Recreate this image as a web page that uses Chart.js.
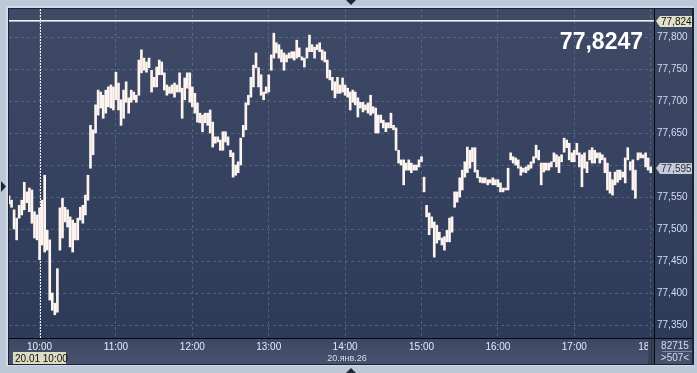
<!DOCTYPE html>
<html>
<head>
<meta charset="utf-8">
<script src="https://cdn.jsdelivr.net/npm/chart.js@4/dist/chart.umd.min.js"></script>
<style>
html, body { margin: 0; padding: 0; background: #bcc8d8; }
canvas { display: block; }
</style>
</head>
<body>
<canvas id="quoteChart" width="697" height="373"></canvas>
<script>
// --- DATA ---
// one bar every 2 minutes, first bar at 9:36 (minutes since midnight)
const startMinute = 9 * 60 + 36;
const barStep = 2;

const highs = [
    77.552, 77.545, 77.530, 77.517, 77.537, 77.545, 77.573, 77.558, 77.564, 77.561,
    77.527, 77.522, 77.533, 77.545, 77.584, 77.498, 77.483, 77.400, 77.384, 77.438,
    77.533, 77.548, 77.534, 77.530, 77.519, 77.514, 77.509, 77.517, 77.534, 77.537,
    77.553, 77.584, 77.662, 77.655, 77.694, 77.717, 77.714, 77.709, 77.717, 77.722,
    77.725, 77.722, 77.745, 77.728, 77.702, 77.717, 77.730, 77.705, 77.717, 77.714,
    77.709, 77.764, 77.780, 77.767, 77.761, 77.767, 77.748, 77.737, 77.753, 77.764,
    77.761, 77.744, 77.725, 77.722, 77.725, 77.728, 77.725, 77.744, 77.720, 77.736,
    77.744, 77.744, 77.722, 77.712, 77.697, 77.681, 77.678, 77.681, 77.681, 77.686,
    77.667, 77.644, 77.644, 77.639, 77.652, 77.652, 77.644, 77.623, 77.619, 77.600,
    77.605, 77.642, 77.662, 77.697, 77.709, 77.737, 77.756, 77.775, 77.752, 77.741,
    77.714, 77.722, 77.741, 77.772, 77.806, 77.791, 77.788, 77.780, 77.775, 77.772,
    77.775, 77.777, 77.777, 77.795, 77.783, 77.769, 77.767, 77.783, 77.803, 77.788,
    77.784, 77.788, 77.791, 77.780, 77.777, 77.764, 77.748, 77.737, 77.730, 77.737,
    77.725, 77.736, 77.725, 77.720, 77.714, 77.717, 77.714, 77.705, 77.698, 77.698,
    77.694, 77.697, 77.709, 77.691, 77.689, 77.678, 77.678, 77.670, 77.666, 77.666,
    77.681, 77.662, 77.658, 77.623, 77.608, 77.608, 77.603, 77.608, 77.603, 77.600,
    77.600, 77.608, 77.613, 77.581, 77.537, 77.525, 77.519, 77.511, 77.506, 77.495,
    77.486, 77.488, 77.498, 77.517, 77.519, 77.558, 77.558, 77.580, 77.592, 77.605,
    77.628, 77.623, 77.627, 77.627, 77.592, 77.581, 77.580, 77.580, 77.577, 77.577,
    77.580, 77.577, 77.577, 77.572, 77.564, 77.564, 77.595, 77.619, 77.613, 77.611,
    77.608, 77.597, 77.595, 77.597, 77.600, 77.605, 77.613, 77.631, 77.623, 77.603,
    77.603, 77.603, 77.603, 77.605, 77.619, 77.616, 77.613, 77.616, 77.642, 77.639,
    77.634, 77.619, 77.623, 77.634, 77.619, 77.616, 77.619, 77.605, 77.623, 77.627,
    77.623, 77.619, 77.619, 77.616, 77.611, 77.603, 77.589, 77.577, 77.589, 77.592,
    77.592, 77.589, 77.611, 77.627, 77.605, 77.608, 77.592, 77.619, 77.619, 77.616,
    77.619, 77.611, 77.597
];

const lows = [
    77.539, 77.534, 77.500, 77.483, 77.517, 77.522, 77.530, 77.541, 77.527, 77.509,
    77.486, 77.483, 77.452, 77.475, 77.464, 77.467, 77.389, 77.373, 77.366, 77.370,
    77.467, 77.486, 77.511, 77.503, 77.472, 77.464, 77.483, 77.483, 77.514, 77.509,
    77.522, 77.545, 77.595, 77.616, 77.650, 77.678, 77.689, 77.673, 77.681, 77.691,
    77.689, 77.686, 77.702, 77.686, 77.662, 77.673, 77.698, 77.681, 77.698, 77.702,
    77.698, 77.709, 77.744, 77.748, 77.745, 77.752, 77.714, 77.722, 77.722, 77.741,
    77.741, 77.717, 77.709, 77.712, 77.712, 77.706, 77.714, 77.714, 77.673, 77.702,
    77.720, 77.698, 77.691, 77.681, 77.667, 77.666, 77.652, 77.666, 77.662, 77.650,
    77.628, 77.634, 77.636, 77.623, 77.623, 77.636, 77.631, 77.613, 77.581, 77.584,
    77.588, 77.600, 77.644, 77.655, 77.694, 77.706, 77.722, 77.752, 77.722, 77.709,
    77.702, 77.712, 77.714, 77.748, 77.767, 77.775, 77.767, 77.761, 77.748, 77.761,
    77.767, 77.767, 77.764, 77.767, 77.769, 77.764, 77.753, 77.767, 77.777, 77.777,
    77.767, 77.780, 77.777, 77.764, 77.761, 77.736, 77.733, 77.717, 77.705, 77.712,
    77.712, 77.714, 77.709, 77.706, 77.686, 77.698, 77.694, 77.675, 77.689, 77.683,
    77.686, 77.681, 77.678, 77.681, 77.650, 77.650, 77.666, 77.658, 77.652, 77.658,
    77.658, 77.655, 77.623, 77.603, 77.600, 77.569, 77.592, 77.592, 77.588, 77.592,
    77.592, 77.597, 77.605, 77.558, 77.519, 77.491, 77.502, 77.456, 77.478, 77.483,
    77.475, 77.467, 77.480, 77.480, 77.495, 77.534, 77.542, 77.550, 77.561, 77.581,
    77.588, 77.595, 77.605, 77.589, 77.580, 77.573, 77.572, 77.572, 77.569, 77.572,
    77.569, 77.569, 77.566, 77.558, 77.558, 77.561, 77.561, 77.608, 77.603, 77.600,
    77.595, 77.584, 77.589, 77.588, 77.592, 77.595, 77.603, 77.611, 77.608, 77.569,
    77.589, 77.592, 77.592, 77.597, 77.605, 77.597, 77.588, 77.605, 77.620, 77.627,
    77.608, 77.605, 77.605, 77.616, 77.597, 77.566, 77.595, 77.588, 77.608, 77.603,
    77.603, 77.611, 77.603, 77.608, 77.588, 77.561, 77.556, 77.553, 77.569, 77.573,
    77.577, 77.581, 77.572, 77.608, 77.592, 77.561, 77.548, 77.608, 77.611, 77.611,
    77.597, 77.592, 77.588
];

const hourTicks = [600, 660, 720, 780, 840, 900, 960, 1020, 1080];
const priceTicks = [77.35, 77.40, 77.45, 77.50, 77.55, 77.60, 77.65, 77.70, 77.75, 77.80];

const dayHigh = 77.8247;
const lastPrice = 77.595;
const cursorTime = 600;
const dayLabel = "20.янв.26";
const cursorLabel = "20.01 10:00";
const volumeLabel = "82715";
const barsLabel = ">507<";

// --- STYLE ---
const FONT = '"Liberation Sans", Arial, sans-serif';
const gridColor = "rgba(110, 126, 158, 0.55)";
const stripTop = "#3b4764";
const stripBottom = "#46526e";

Chart.defaults.font.family = FONT;

const fmtPrice = (v, d) => v.toFixed(d).replace(".", ",");
// price tags cut the value instead of rounding it
const cutPrice = v => fmtPrice(Math.floor(v * 1000 + 1e-6) / 1000, 3);

// --- BACKGROUND + OVERLAYS ---
const terminalFrame = {
    id: "terminalFrame",
    beforeDraw(chart) {
        const { ctx, chartArea: a } = chart;
        const W = chart.width, H = chart.height;
        ctx.save();
        ctx.fillStyle = "#bcc8d8";
        ctx.fillRect(0, 0, W, H);
        ctx.fillStyle = "#d2dae5";
        ctx.fillRect(6, 6, 688, 360);
        ctx.fillStyle = "#1b2233";
        ctx.fillRect(8, 8, 686, 357);

        // plot + price axis
        const g = ctx.createLinearGradient(0, a.top, 0, a.bottom);
        g.addColorStop(0, "#3e4a66");
        g.addColorStop(1, "#2d3a58");
        ctx.fillStyle = g;
        ctx.fillRect(a.left, a.top, 692 - a.left, a.bottom - a.top);

        // time strip
        const s = ctx.createLinearGradient(0, a.bottom, 0, 364);
        s.addColorStop(0, stripTop);
        s.addColorStop(1, stripBottom);
        ctx.fillStyle = s;
        ctx.fillRect(a.left, a.bottom, 692 - a.left, 364 - a.bottom);
        ctx.restore();
    },
    beforeDatasetsDraw(chart) {
        const { ctx, chartArea: a, scales } = chart;
        const x = Math.round(scales.x.getPixelForValue(cursorTime)) + 0.5;
        ctx.save();
        ctx.strokeStyle = "#eef2fa";
        ctx.lineWidth = 1;
        ctx.setLineDash([2, 1]);
        ctx.beginPath();
        ctx.moveTo(x, a.top);
        ctx.lineTo(x, a.bottom);
        ctx.stroke();
        ctx.restore();
    },
    afterDraw(chart) {
        const { ctx, chartArea: a, scales } = chart;
        ctx.save();

        // day high line
        const yh = Math.round(scales.y.getPixelForValue(dayHigh));
        ctx.fillStyle = "#f4f4f4";
        ctx.fillRect(a.left, yh - 1, a.right - a.left, 1);
        ctx.fillStyle = "#a9adb6";
        ctx.fillRect(a.left, yh, a.right - a.left, 1);

        // corner under price axis (cuts the 18:00 label)
        const s = ctx.createLinearGradient(0, a.bottom, 0, 364);
        s.addColorStop(0, stripTop);
        s.addColorStop(1, stripBottom);
        ctx.fillStyle = s;
        ctx.fillRect(a.right, a.bottom, 692 - a.right, 364 - a.bottom);
        ctx.fillStyle = "#3a4459";
        ctx.fillRect(a.right - 6, a.bottom, 6, 364 - a.bottom);
        ctx.fillStyle = "#2a3244";
        ctx.fillRect(a.right - 3, a.bottom, 1, 364 - a.bottom);

        // black separators
        ctx.fillStyle = "#05070c";
        ctx.fillRect(a.right, a.top, 1, 364 - a.top);
        ctx.fillRect(a.left, a.bottom, 692 - a.left, 1);

        // price tags
        const tag = (y, fill, text, color) => {
            ctx.fillStyle = fill;
            ctx.beginPath();
            ctx.moveTo(a.right + 2, y);
            ctx.lineTo(a.right + 6, y - 5);
            ctx.lineTo(692, y - 5);
            ctx.lineTo(692, y + 6);
            ctx.lineTo(a.right + 6, y + 6);
            ctx.closePath();
            ctx.fill();
            ctx.fillStyle = color;
            ctx.font = "10px " + FONT;
            ctx.textBaseline = "middle";
            ctx.textAlign = "left";
            ctx.fillText(text, a.right + 7, y + 1);
        };
        tag(yh, "#e2e2c8", cutPrice(dayHigh), "#101010");
        const yl = Math.round(scales.y.getPixelForValue(lastPrice));
        tag(yl, "#c7ccd5", cutPrice(lastPrice), "#26304a");

        // big day high
        ctx.fillStyle = "#ffffff";
        ctx.font = "bold 23px " + FONT;
        ctx.textAlign = "right";
        ctx.textBaseline = "alphabetic";
        ctx.fillText(fmtPrice(dayHigh, 4), 643, 49);

        // date under time axis
        ctx.fillStyle = "#d6deec";
        ctx.font = "9px " + FONT;
        ctx.textAlign = "center";
        ctx.fillText(dayLabel, 347, 361);

        // cursor time box
        ctx.fillStyle = "#dcdcc3";
        ctx.fillRect(13, 352, 53, 12);
        ctx.fillStyle = "#0c0c0c";
        ctx.font = "10px " + FONT;
        ctx.textAlign = "left";
        ctx.fillText(cursorLabel, 15, 362);

        // corner counters
        ctx.fillStyle = "#d6deec";
        ctx.font = "10px " + FONT;
        ctx.textAlign = "center";
        ctx.fillText(volumeLabel, 675, 349);
        ctx.fillText(barsLabel, 675, 361);
        ctx.fillStyle = "#7c889e";
        ctx.fillRect(662, 351, 30, 1);

        // scroll markers
        ctx.fillStyle = "#1e2638";
        const tri = (pts) => {
            ctx.beginPath();
            ctx.moveTo(pts[0], pts[1]);
            ctx.lineTo(pts[2], pts[3]);
            ctx.lineTo(pts[4], pts[5]);
            ctx.closePath();
            ctx.fill();
        };
        tri([346, 0, 356, 0, 351, 5]);
        tri([346, 373, 356, 373, 351, 368]);
        tri([1, 181, 1, 192, 6, 186.5]);

        ctx.restore();
    }
};

// --- CHART ---
const bars = highs.map((h, i) => ({
    x: startMinute + i * barStep,
    y: [lows[i], h]
}));

new Chart(document.getElementById("quoteChart"), {
    type: "bar",
    data: {
        datasets: [{
            data: bars,
            backgroundColor: "#fdf4ef",
            borderWidth: 0,
            barThickness: 2,
            grouped: false
        }]
    },
    options: {
        responsive: false,
        animation: false,
        devicePixelRatio: 1,
        layout: { padding: { left: 9, top: 9, right: 5, bottom: 9 } },
        plugins: {
            legend: { display: false },
            tooltip: { enabled: false }
        },
        scales: {
            x: {
                type: "linear",
                min: startMinute,
                max: startMinute + 506.6,
                offset: false,
                afterBuildTicks: s => { s.ticks = hourTicks.map(v => ({ value: v })); },
                afterFit: s => { s.height = 26; s.paddingLeft = 0; s.paddingRight = 0; },
                grid: { color: gridColor, drawTicks: false, offset: false },
                border: { display: false, dash: [3, 3] },
                ticks: {
                    color: "#e4eaf4",
                    font: { size: 10 },
                    padding: 3,
                    maxRotation: 0,
                    autoSkip: false,
                    callback: v => `${v / 60}:00`
                }
            },
            y: {
                position: "right",
                min: 77.32969,
                max: 77.84375,
                afterBuildTicks: s => { s.ticks = priceTicks.map(v => ({ value: v })); },
                afterFit: s => { s.width = 38; },
                grid: { color: gridColor, drawTicks: false },
                border: { display: false, dash: [3, 3] },
                ticks: {
                    color: "#d2def2",
                    font: { size: 10 },
                    padding: 3,
                    autoSkip: false,
                    // the last-price tag hides the label it sits on
                    callback: v => Math.abs(v - lastPrice) < 0.01 ? "" : fmtPrice(v, 3)
                }
            }
        }
    },
    plugins: [terminalFrame]
});
</script>
</body>
</html>
